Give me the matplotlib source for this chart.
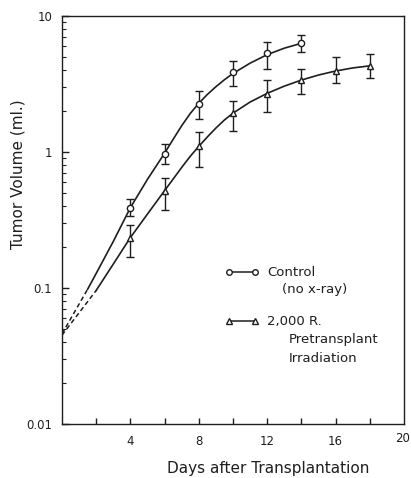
import matplotlib
matplotlib.use("Agg")
from matplotlib import pyplot as plt
from matplotlib.ticker import FixedLocator, LogLocator, NullFormatter

# Measured tumour volumes (ml) with error bar limits
days_control = [4, 6, 8, 10, 12, 14]
vol_control = [0.39, 0.97, 2.25, 3.9, 5.3, 6.3]
low_control = [0.34, 0.82, 1.75, 3.06, 4.1, 5.4]
high_control = [0.45, 1.14, 2.8, 4.7, 6.4, 7.2]

days_xray = [4, 6, 8, 10, 12, 14, 16, 18]
vol_xray = [0.233, 0.52, 1.1, 1.94, 2.67, 3.38, 3.94, 4.29]
low_xray = [0.17, 0.375, 0.78, 1.43, 1.97, 2.67, 3.2, 3.5]
high_xray = [0.29, 0.64, 1.4, 2.37, 3.38, 4.07, 5.0, 5.25]

# Hand-drawn growth curves: extrapolated (dashed) part and fitted (solid) part
ext_days_control = [0, 1.5]
ext_vol_control = [0.046, 0.098]
fit_days_control = [1.5, 2, 3, 4, 5, 6, 6.5, 7, 7.5, 8, 8.5, 9, 9.5, 10, 11,
                    12, 13, 14]
fit_vol_control = [0.098, 0.128, 0.22, 0.39, 0.63, 0.98, 1.24, 1.56, 1.92,
                   2.28, 2.65, 3.02, 3.4, 3.78, 4.5, 5.2, 5.8, 6.3]

ext_days_xray = [0, 2.0]
ext_vol_xray = [0.045, 0.096]
fit_days_xray = [2.0, 3, 4, 5, 6, 7, 7.5, 8, 8.5, 9, 9.5, 10, 11, 12, 13, 14,
                 15, 16, 17, 18]
fit_vol_xray = [0.096, 0.15, 0.235, 0.35, 0.52, 0.77, 0.93, 1.1, 1.29, 1.5,
                1.72, 1.93, 2.33, 2.7, 3.05, 3.38, 3.68, 3.94, 4.15, 4.3]

x_ticks = [2, 4, 6, 8, 10, 12, 14, 16, 18]
x_labels = ["", "4", "", "8", "", "12", "", "16", ""]
y_ticks = [0.01, 0.1, 1, 10]
y_labels = ["0.01", "0.1", "1", "10"]

W, H = 411, 478
ink = "#1e1e1e"
plt.rcParams['font.family'] = ['DejaVu Sans']

fig = plt.figure(figsize=(W / 100, H / 100), dpi=100)
ax = fig.add_axes([62 / W, 1 - 424 / H, 342 / W, 408 / H])
ax.set_yscale('log')
ax.set_xlim(0, 20)
ax.set_ylim(0.01, 10)

# Curves
ax.plot(ext_days_control, ext_vol_control, color=ink, lw=1.1, ls=(0, (3, 2)))
ax.plot(ext_days_xray, ext_vol_xray, color=ink, lw=1.1, ls=(0, (3, 2)))
ax.plot(fit_days_control, fit_vol_control, color=ink, lw=1.2,
        solid_joinstyle='round')
ax.plot(fit_days_xray, fit_vol_xray, color=ink, lw=1.2,
        solid_joinstyle='round')

# Data points with error bars
err_c = [[v - lo for v, lo in zip(vol_control, low_control)],
         [hi - v for v, hi in zip(vol_control, high_control)]]
err_x = [[v - lo for v, lo in zip(vol_xray, low_xray)],
         [hi - v for v, hi in zip(vol_xray, high_xray)]]
ax.errorbar(days_control, vol_control, yerr=err_c, fmt='o', ms=4.5, mfc='white',
            mec=ink, mew=1.0, ecolor=ink, elinewidth=1.0, capsize=2.6, capthick=1.0)
ax.errorbar(days_xray, vol_xray, yerr=err_x, fmt='^', ms=5, mfc='white',
            mec=ink, mew=1.0, ecolor=ink, elinewidth=1.0, capsize=2.6, capthick=1.0)

# Axes styling
for s in ax.spines.values():
    s.set_color(ink)
    s.set_linewidth(1.0)
ax.xaxis.set_major_locator(FixedLocator(x_ticks))
ax.set_xticklabels(x_labels)
ax.tick_params(axis='x', direction='in', length=4, width=1, color=ink,
               labelsize=8.5, pad=8, labelcolor=ink)
ax.yaxis.set_major_locator(FixedLocator(y_ticks))
ax.set_yticklabels(y_labels)
ax.yaxis.set_minor_locator(LogLocator(base=10, subs=range(2, 10)))
ax.yaxis.set_minor_formatter(NullFormatter())
ax.tick_params(axis='y', which='major', direction='in', length=5, width=1,
               color=ink, labelsize=8.5, pad=7, labelcolor=ink)
ax.tick_params(axis='y', which='minor', direction='in', length=3, width=0.8,
               color=ink)
fig.text(403 / W, 1 - 439 / H, "20", ha='center', va='center',
         fontsize=8.5, color=ink)

# Axis titles
fig.text(18 / W, 1 - 174 / H, "Tumor Volume (ml.)", rotation=90,
         ha='center', va='center', fontsize=11, color=ink)
fig.text(268 / W, 1 - 469 / H, "Days after Transplantation",
         ha='center', va='center', fontsize=11, color=ink)


# Legend drawn by hand inside the axes
def legend_entry(y, marker):
    yy = 1 - y / H
    fig.lines.append(plt.Line2D([229 / W, 255 / W], [yy, yy],
                                transform=fig.transFigure, color=ink, lw=1.1,
                                marker=marker, ms=4, mfc='white', mec=ink,
                                mew=1.0))


legend_entry(272, 'o')
legend_entry(321, '^')
legend_text = [(267, 272, "Control"), (282, 289, "(no x-ray)"),
               (267, 321, "2,000 R."), (289, 340, "Pretransplant"),
               (289, 358, "Irradiation")]
for x, y, s in legend_text:
    fig.text(x / W, 1 - y / H, s, ha='left', va='center', fontsize=9.5,
             color=ink)

fig.savefig("out.png", dpi=100, facecolor='white')
